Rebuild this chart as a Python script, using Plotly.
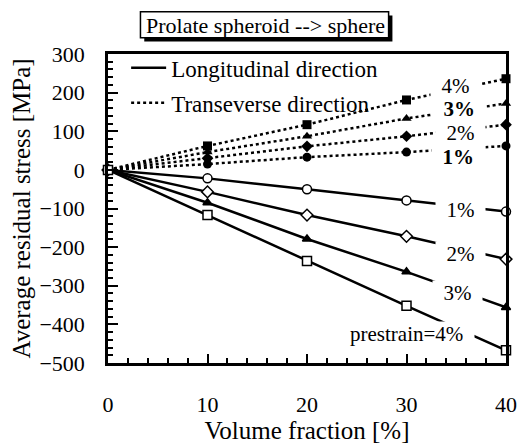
import plotly.graph_objects as go

# ---- data ----
vol_frac = [0, 10, 20, 30, 40]
prestrains = ["1%", "2%", "3%", "4%"]
longitudinal = {
    "1%": [0, -22, -50, -79, -108],
    "2%": [0, -57, -117, -172, -231],
    "3%": [0, -85, -179, -264, -356],
    "4%": [0, -117, -236, -352, -467],
}
transverse = {
    "1%": [0, 15, 33, 46, 62],
    "2%": [0, 30, 61, 87, 117],
    "3%": [0, 46, 87, 133, 172],
    "4%": [0, 62, 117, 181, 236],
}
long_symbols = {"1%": "circle", "2%": "diamond", "3%": "triangle-up", "4%": "square"}
long_fill = {"1%": "white", "2%": "white", "3%": "black", "4%": "white"}
trans_symbols = {"1%": "circle", "2%": "diamond", "3%": "triangle-up", "4%": "square"}

# label positions (data coords)
long_labels = [("1%", 35.4, -104), ("2%", 35.4, -217), ("3%", 35.1, -320)]
prestrain_label = ("prestrain=4%", 30.6, -425)
trans_labels = [("4%", 34.9, 217, False), ("3%", 35.3, 158, True), ("2%", 35.4, 96, False), ("1%", 35.2, 33, True)]

FONT = "Times New Roman, Liberation Serif, serif"
OFF = 8  # page body margin
W, H = 529 - OFF, 447 - OFF
# plot area in page pixels: x 99..516, y 54..375
ML, MR, MT, MB = 99 - OFF, 529 - 516, 54 - OFF, 447 - 375

fig = go.Figure()

for p in prestrains:
    fig.add_trace(go.Scatter(
        x=vol_frac, y=transverse[p], mode="lines+markers",
        line=dict(color="black", width=2.5, dash="dot"),
        marker=dict(symbol=trans_symbols[p], size=9, color="black"),
        showlegend=False, cliponaxis=False))
for p in prestrains:
    fig.add_trace(go.Scatter(
        x=vol_frac, y=longitudinal[p], mode="lines+markers",
        line=dict(color="black", width=2.5),
        marker=dict(symbol=long_symbols[p], size=9 if long_fill[p] == "white" else 8, color=long_fill[p],
                    line=dict(color="black", width=1.5)),
        showlegend=False, cliponaxis=False))

# legend entries
fig.add_trace(go.Scatter(x=[None], y=[None], mode="lines", name="Longitudinal direction",
                         line=dict(color="black", width=2.5), legendgroup="a"))
fig.add_trace(go.Scatter(x=[None], y=[None], mode="lines", name="Transeverse direction",
                         line=dict(color="black", width=2.5, dash="dot"), legendgroup="b"))

NB = "\u00a0"
annotations = []
for txt, x, y in long_labels:
    annotations.append(dict(x=x, y=y, xref="x", yref="y", text=NB * 2 + txt + NB * 2, showarrow=False,
                            font=dict(family=FONT, size=21, color="black"), bgcolor="white", borderpad=0))
txt, x, y = prestrain_label
annotations.append(dict(x=x, y=y, xref="x", yref="y", text=txt + NB * 2, showarrow=False,
                        font=dict(family=FONT, size=21, color="black"), bgcolor="white", borderpad=0))
for txt, x, y, bold in trans_labels:
    t = "<b>" + txt + "</b>" if bold else txt
    annotations.append(dict(x=x, y=y, xref="x", yref="y", text=NB * 2 + t + NB * 2, showarrow=False,
                            font=dict(family=FONT, size=21, color="black"), bgcolor="white", borderpad=0))

# title box (page pixel coords -> paper)
pw, ph = 516 - 99, 375 - 54
def px(xp):
    return (xp - 99) / pw
def py(yp):
    return (375 - yp) / ph

shapes = [
    dict(type="rect", xref="paper", yref="paper", x0=px(137), x1=px(397), y0=py(41), y1=py(14),
         fillcolor="black", line=dict(width=0), layer="above"),
    dict(type="rect", xref="paper", yref="paper", x0=px(133), x1=px(393), y0=py(37), y1=py(10),
         fillcolor="white", line=dict(color="black", width=1.5), layer="above"),
]
annotations.append(dict(x=px(264), y=py(24), xref="paper", yref="paper", text="Prolate spheroid --> sphere",
                        showarrow=False, font=dict(family=FONT, size=22, color="black"),
                        xanchor="center", yanchor="middle"))

fig.update_layout(
    width=W, height=H,
    margin=dict(l=ML, r=MR, t=MT, b=MB),
    paper_bgcolor="white", plot_bgcolor="white",
    font=dict(family=FONT, size=22, color="black"),
    shapes=shapes, annotations=annotations,
    legend=dict(x=px(118), y=py(46), xanchor="left", yanchor="top", bgcolor="rgba(0,0,0,0)",
                font=dict(family=FONT, size=23), tracegroupgap=2, itemwidth=35),
    xaxis=dict(range=[0, 40], dtick=10, ticks="inside", ticklen=9, tickwidth=2, tickcolor="black",
               showline=True, linewidth=2.5, linecolor="black", mirror=True, showgrid=False, zeroline=False,
               minor=dict(dtick=2, ticks="inside", ticklen=5, tickwidth=1.5, tickcolor="black"),
               ticklabelstandoff=20,
               title=dict(text="Volume fraction [%]", font=dict(family=FONT, size=25), standoff=0),
               tickfont=dict(family=FONT, size=22)),
    yaxis=dict(range=[-500, 300], dtick=100, ticks="inside", ticklen=10, tickwidth=2, tickcolor="black",
               showline=True, linewidth=2.5, linecolor="black", mirror=True, showgrid=False, zeroline=False,
               minor=dict(dtick=20, ticks="inside", ticklen=5, tickwidth=1.5, tickcolor="black"),
               ticklabelstandoff=16,
               title=dict(text="Average residual stress [MPa]", font=dict(family=FONT, size=25), standoff=2),
               tickfont=dict(family=FONT, size=22)),
)

fig.write_html("out.html")
